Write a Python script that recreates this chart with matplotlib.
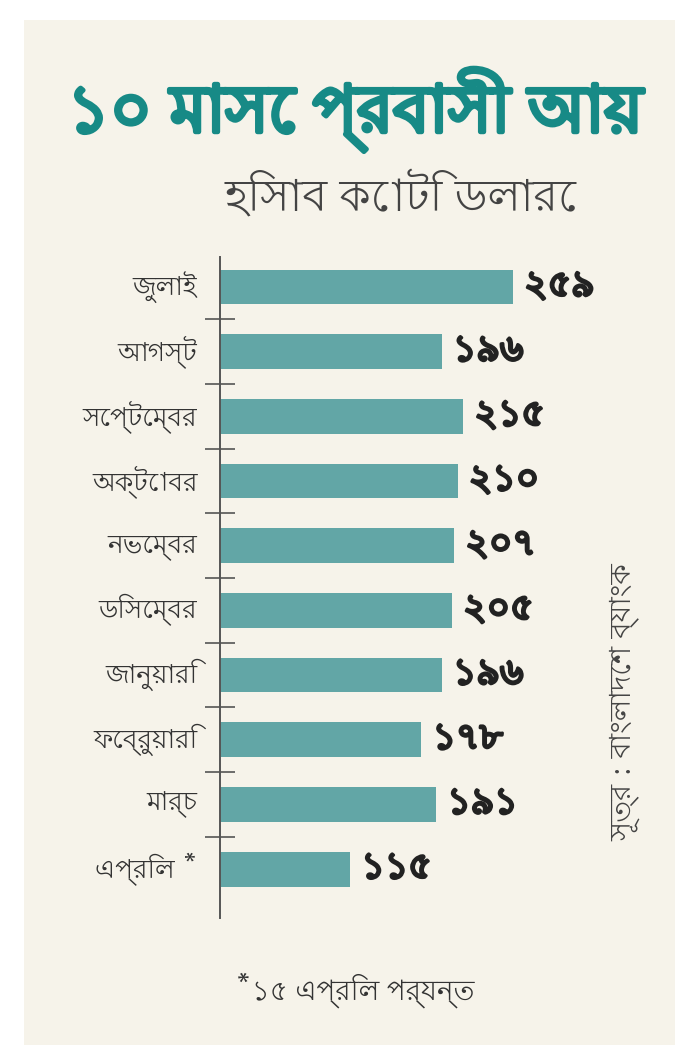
import matplotlib.pyplot as plt
import matplotlib.patheffects as pe
from matplotlib import font_manager
from matplotlib.patches import Rectangle

# Bengali font if one happens to be installed, otherwise fall back
bn_fonts = [f.name for f in font_manager.fontManager.ttflist
            if 'bengali' in f.name.lower() or 'lohit' in f.name.lower()]
plt.rcParams['font.family'] = sorted(set(bn_fonts)) + ['Noto Sans', 'DejaVu Sans']

months = ['জুলাই', 'আগস্ট', 'সেপ্টেম্বর', 'অক্টোবর', 'নভেম্বর',
          'ডিসেম্বর', 'জানু\u09dfারি', 'ফেব্রু\u09dfারি', 'মার্চ', 'এপ্রিল *']
values = [259, 196, 215, 210, 207, 205, 196, 178, 191, 115]
value_labels = ['২৫৯', '১৯৬', '২১৫', '২১০', '২০৭', '২০৫', '১৯৬', '১৭৮', '১৯১', '১১৫']

title = '১০ মাসে প্রবাসী আ\u09df'
subtitle = 'হিসাব কোটি ডলারে'
source = 'সূত্র : বাংলাদেশ ব্যাংক'
note = '*১৫ এপ্রিল পর্যন্ত'

W, H = 697, 1064
fig = plt.figure(figsize=(W / 100, H / 100), dpi=100)
fig.patch.set_facecolor('white')

# beige panel
fig.patches.append(Rectangle((24 / W, 1 - 1045 / H), 651 / W, 1025 / H,
                             transform=fig.transFigure, facecolor='#f6f3ea',
                             edgecolor='none', zorder=-5))

# axes placed in pixel coordinates
left, right, top, bottom = 220, 600, 257, 918
ax = fig.add_axes([left / W, 1 - bottom / H, (right - left) / W, (bottom - top) / H])
ax.set_facecolor('none')
ax.set_zorder(2)

ypos = list(range(len(values)))
ax.barh(ypos, values, height=0.54, color='#62a6a6', zorder=2)
ax.set_xlim(0, (right - left) / 1.131)
ax.set_ylim(9.757, -0.464)

for s in ['top', 'right', 'bottom']:
    ax.spines[s].set_visible(False)
ax.spines['left'].set_color('#555555')
ax.spines['left'].set_linewidth(1.4)
ax.set_xticks([])

ax.set_yticks([i + 0.5 for i in ypos[:-1]])
ax.set_yticklabels([])
ax.tick_params(axis='y', direction='inout', length=21.6, width=1.2, color='#555555')

bold_dark = [pe.withStroke(linewidth=2.2, foreground='#222222')]
for i, (m, v, lab) in enumerate(zip(months, values, value_labels)):
    ax.text(-20, i, m, ha='right', va='center', fontsize=19, color='#333333')
    ax.text(v + 10, i, lab, ha='left', va='center', fontsize=26,
            fontweight='bold', color='#222222', path_effects=bold_dark)

fig.text(355 / W, 1 - 110 / H, title, ha='center', va='center', fontsize=47,
         fontweight='bold', color='#178a86',
         path_effects=[pe.withStroke(linewidth=3.5, foreground='#178a86')])
fig.text(400 / W, 1 - 198 / H, subtitle, ha='center', va='center', fontsize=32,
         color='#444444')
fig.text(625 / W, 1 - 702 / H, source, ha='center', va='center', fontsize=21,
         rotation=90, color='#444444')
fig.text(355 / W, 1 - 990 / H, note, ha='center', va='center', fontsize=20,
         color='#333333')

fig.savefig('out.png', dpi=100, facecolor=fig.get_facecolor())
